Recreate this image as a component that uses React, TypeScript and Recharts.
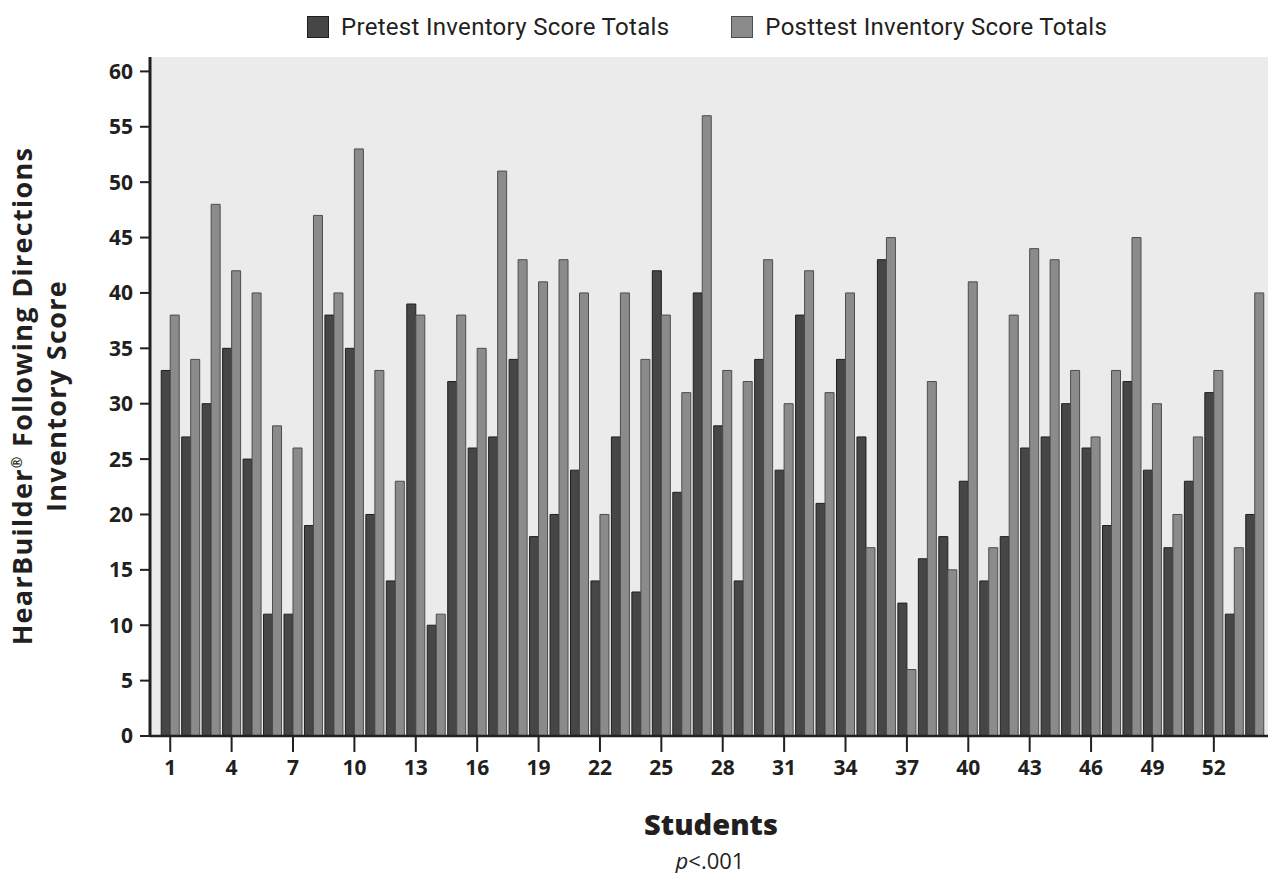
import { Bar, BarChart, CartesianGrid, XAxis, YAxis } from "recharts";

// Student numbers 1..54 and their inventory score totals
const students = [
  1, 2, 3, 4, 5, 6, 7, 8, 9, 10, 11, 12, 13, 14, 15, 16, 17, 18, 19, 20, 21, 22, 23, 24, 25, 26, 27,
  28, 29, 30, 31, 32, 33, 34, 35, 36, 37, 38, 39, 40, 41, 42, 43, 44, 45, 46, 47, 48, 49, 50, 51, 52,
  53, 54
];

const pretest = [
  33, 27, 30, 35, 25, 11, 11, 19, 38, 35, 20, 14, 39, 10, 32, 26, 27, 34, 18, 20, 24, 14, 27, 13, 42,
  22, 40, 28, 14, 34, 24, 38, 21, 34, 27, 43, 12, 16, 18, 23, 14, 18, 26, 27, 30, 26, 19, 32, 24, 17,
  23, 31, 11, 20
];

const posttest = [
  38, 34, 48, 42, 40, 28, 26, 47, 40, 53, 33, 23, 38, 11, 38, 35, 51, 43, 41, 43, 40, 20, 40, 34, 38,
  31, 56, 33, 32, 43, 30, 42, 31, 40, 17, 45, 6, 32, 15, 41, 17, 38, 44, 43, 33, 27, 33, 45, 30, 20,
  27, 33, 17, 40
];

const yTicks = [0, 5, 10, 15, 20, 25, 30, 35, 40, 45, 50, 55, 60];

const data = students.map((s, i) => ({ student: s, pre: pretest[i], post: posttest[i] }));

const INK = "#231f20";
const PRE = "#464646";
const POST = "#8b8b8b";

const tickFont = { fontSize: 21, fontWeight: 700, fill: INK, fontFamily: "'Open Sans', sans-serif" };

function LegendSwatch({ color, border }: { color: string; border: string }) {
  return (
    <span
      style={{
        display: "inline-block",
        width: 20,
        height: 20,
        background: color,
        border: `1px solid ${border}`,
        marginRight: 12
      }}
    />
  );
}

export default function App() {
  return (
    <div style={{ position: "absolute", left: 0, top: 0, width: 1274, height: 873, background: "#fff" }}>
      <BarChart
        width={1274}
        height={873}
        data={data}
        barGap={0}
        barCategoryGap="6%"
        margin={{ top: 57, right: 6, left: 0, bottom: 0 }}
      >
        <CartesianGrid fill="#ebebeb" stroke="none" horizontal={false} vertical={false} />
        <XAxis
          dataKey="student"
          type="category"
          interval={2}
          height={137}
          padding={{ left: 10, right: 3 }}
          tick={tickFont}
          tickSize={16}
          tickMargin={8}
          tickLine={{ stroke: INK, strokeWidth: 2 }}
          axisLine={{ stroke: INK, strokeWidth: 2.5 }}
        />
        <XAxis
          xAxisId="top"
          dataKey="student"
          orientation="top"
          height={0}
          tick={false}
          tickLine={false}
          axisLine={{ stroke: INK, strokeWidth: 2.5 }}
        />
        <YAxis
          type="number"
          domain={[0, 61.3]}
          ticks={yTicks}
          width={150}
          tick={tickFont}
          tickSize={10}
          tickMargin={7}
          tickLine={{ stroke: INK, strokeWidth: 2 }}
          axisLine={{ stroke: INK, strokeWidth: 3 }}
        />
        <YAxis
          yAxisId="right"
          orientation="right"
          type="number"
          domain={[0, 61.3]}
          width={0}
          tick={false}
          tickLine={false}
          axisLine={{ stroke: INK, strokeWidth: 2.5 }}
        />
        <Bar dataKey="pre" fill={PRE} stroke="#1f1f1f" strokeWidth={1} isAnimationActive={false} />
        <Bar dataKey="post" fill={POST} stroke="#4d4d4d" strokeWidth={1} isAnimationActive={false} />
      </BarChart>

      {/* legend */}
      <div
        style={{
          position: "absolute",
          left: 307,
          top: 13,
          display: "flex",
          alignItems: "center",
          fontFamily: "Roboto, sans-serif",
          fontSize: 24,
          letterSpacing: 0.3,
          color: INK,
          whiteSpace: "nowrap"
        }}
      >
        <LegendSwatch color={PRE} border="#1f1f1f" />
        <span style={{ marginRight: 62 }}>Pretest Inventory Score Totals</span>
        <LegendSwatch color={POST} border="#4d4d4d" />
        <span>Posttest Inventory Score Totals</span>
      </div>

      {/* y axis title */}
      <div
        style={{
          position: "absolute",
          left: 39,
          top: 396,
          transform: "translate(-50%, -50%) rotate(-90deg)",
          fontFamily: "'Open Sans', sans-serif",
          fontWeight: 700,
          fontSize: 27,
          letterSpacing: 1.3,
          lineHeight: "34px",
          color: INK,
          textAlign: "center",
          whiteSpace: "nowrap"
        }}
      >
        HearBuilder<sup style={{ fontSize: 14, lineHeight: 0 }}>®</sup> Following Directions
        <br />
        Inventory Score
      </div>

      {/* x axis title */}
      <div
        style={{
          position: "absolute",
          left: 711,
          top: 823,
          transform: "translate(-50%, -50%)",
          fontFamily: "'Open Sans', sans-serif",
          fontWeight: 800,
          fontSize: 29,
          color: INK,
          whiteSpace: "nowrap"
        }}
      >
        Students
      </div>
      <div
        style={{
          position: "absolute",
          left: 710,
          top: 860,
          transform: "translate(-50%, -50%)",
          fontFamily: "'Open Sans', sans-serif",
          fontSize: 22,
          color: INK,
          whiteSpace: "nowrap"
        }}
      >
        <i>p</i>&lt;.001
      </div>
    </div>
  );
}
